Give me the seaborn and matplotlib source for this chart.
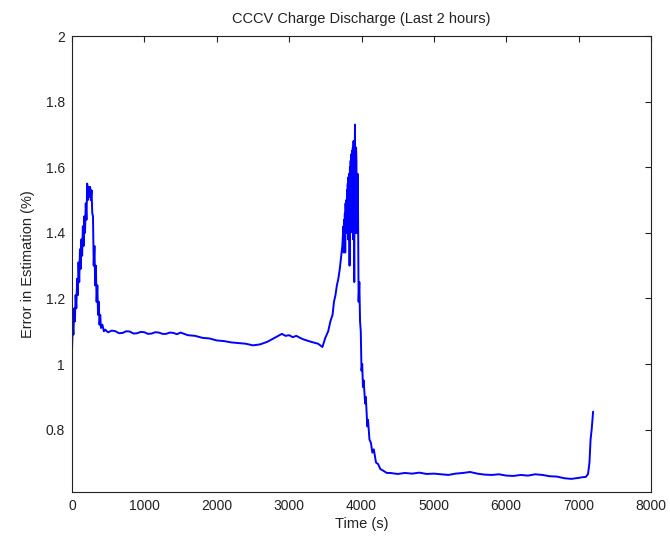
import matplotlib
matplotlib.use("Agg")
import matplotlib.pyplot as plt
import seaborn as sns
import pandas as pd

# --- data ---
t_charge = [0, 10, 20, 30, 40, 50, 60, 70, 80, 90, 100, 110, 120, 130, 140, 150,
            160, 170, 180, 190, 200, 210, 220, 230, 240, 250, 260, 270, 280, 290,
            300, 310, 320, 330, 340, 350, 360, 370, 380, 390, 400, 420, 440, 460, 480]
e_charge = [1.04, 1.12, 1.09, 1.17, 1.13, 1.21, 1.17, 1.26, 1.21, 1.31, 1.25, 1.35,
            1.29, 1.38, 1.33, 1.42, 1.36, 1.45, 1.40, 1.49, 1.44, 1.55, 1.50, 1.54,
            1.51, 1.54, 1.50, 1.53, 1.46, 1.45, 1.30, 1.36, 1.24, 1.30, 1.19, 1.24,
            1.15, 1.19, 1.12, 1.15, 1.11, 1.12, 1.10, 1.105, 1.10]

t_rest = [500, 550, 600, 650, 700, 750, 800, 850, 900, 950, 1000, 1050, 1100, 1150,
          1200, 1250, 1300, 1350, 1400, 1450, 1500, 1600, 1700, 1800, 1900, 2000,
          2100, 2200, 2300, 2400, 2500, 2600, 2700, 2800, 2850, 2900, 2950, 3000,
          3050, 3100, 3150, 3200, 3300, 3400, 3460]
e_rest = [1.097, 1.102, 1.100, 1.094, 1.095, 1.100, 1.099, 1.093, 1.094, 1.098,
          1.097, 1.092, 1.093, 1.097, 1.096, 1.092, 1.092, 1.096, 1.095, 1.091,
          1.096, 1.088, 1.086, 1.080, 1.078, 1.072, 1.070, 1.066, 1.064, 1.062,
          1.057, 1.060, 1.068, 1.080, 1.086, 1.092, 1.086, 1.088, 1.082, 1.086,
          1.080, 1.075, 1.068, 1.062, 1.052]

t_spike = [3500, 3540, 3570, 3600, 3620, 3640, 3660, 3680, 3700, 3720, 3735, 3750,
           3755, 3760, 3765, 3770, 3775, 3780, 3785, 3790, 3795, 3800, 3805, 3810,
           3815, 3820, 3825, 3830, 3835, 3840, 3845, 3850, 3855, 3860, 3865, 3870,
           3875, 3880, 3885, 3890, 3895, 3900, 3905, 3910, 3915, 3920, 3925, 3930,
           3935, 3940, 3945, 3950, 3960, 3970, 3980, 3990,
           4000, 4010, 4020, 4030, 4050, 4060, 4080, 4090, 4110, 4130, 4150, 4170,
           4200, 4230, 4260, 4300, 4350]
e_spike = [1.08, 1.10, 1.13, 1.15, 1.19, 1.21, 1.24, 1.26, 1.29, 1.33, 1.36, 1.42,
           1.34, 1.44, 1.38, 1.46, 1.34, 1.49, 1.40, 1.50, 1.42, 1.53, 1.40, 1.55,
           1.38, 1.57, 1.45, 1.58, 1.30, 1.60, 1.42, 1.62, 1.44, 1.64, 1.42, 1.65,
           1.40, 1.66, 1.38, 1.68, 1.42, 1.25, 1.60, 1.73, 1.45, 1.40, 1.66, 1.62,
           1.40, 1.42, 1.58, 1.55, 1.19, 1.25, 1.13, 1.10,
           0.98, 1.00, 0.93, 0.95, 0.88, 0.90, 0.81, 0.83, 0.77, 0.76, 0.73, 0.74,
           0.70, 0.695, 0.68, 0.675, 0.668]

t_tail = [4400, 4500, 4600, 4700, 4800, 4900, 5000, 5100, 5200, 5300, 5400, 5500,
          5600, 5700, 5800, 5900, 6000, 6100, 6200, 6300, 6400, 6500, 6600, 6700,
          6800, 6900, 7000, 7050, 7100, 7130, 7150, 7165, 7180, 7200]
e_tail = [0.668, 0.665, 0.668, 0.666, 0.669, 0.665, 0.666, 0.664, 0.662, 0.666,
          0.668, 0.671, 0.666, 0.663, 0.662, 0.664, 0.660, 0.659, 0.662, 0.660,
          0.664, 0.662, 0.658, 0.657, 0.652, 0.650, 0.653, 0.655, 0.656, 0.665,
          0.70, 0.77, 0.80, 0.855]

x_ticks = [0, 1000, 2000, 3000, 4000, 5000, 6000, 7000, 8000]
y_ticks = [0.8, 1.0, 1.2, 1.4, 1.6, 1.8, 2.0]
y_labels = ["0.8", "1", "1.2", "1.4", "1.6", "1.8", "2"]

df = pd.DataFrame({
    "Time (s)": t_charge + t_rest + t_spike + t_tail,
    "Error": e_charge + e_rest + e_spike + e_tail,
})

sns.set_style("white")
plt.rcParams["font.family"] = ["Liberation Sans", "DejaVu Sans"]

fig = plt.figure(figsize=(6.7, 5.44), dpi=100)
ax = fig.add_axes([72 / 670, 52 / 544, (651 - 72) / 670, (492 - 36) / 544])

sns.lineplot(data=df, x="Time (s)", y="Error", ax=ax, color="#0000ff",
             linewidth=1.4, estimator=None, sort=False)

ax.set_xlim(0, 8000)
ax.set_ylim(0.61, 2.0)
ax.set_xticks(x_ticks)
ax.set_xticklabels([str(v) for v in x_ticks])
ax.set_yticks(y_ticks)
ax.set_yticklabels(y_labels)
ax.tick_params(direction="in", length=4, width=0.8, top=True, right=True,
               labelsize=10, colors="#222222", pad=5)
for s in ax.spines.values():
    s.set_visible(True)
    s.set_color("#222222")
    s.set_linewidth(0.8)

ax.set_xlabel("Time (s)", fontsize=10.5, color="#222222", labelpad=3)
ax.set_ylabel("Error in Estimation (%)", fontsize=10.5, color="#222222", labelpad=8)
ax.set_title("CCCV Charge Discharge (Last 2 hours)", fontsize=10.5, color="#222222", pad=9)

fig.savefig("out.png", dpi=100, facecolor="white")
